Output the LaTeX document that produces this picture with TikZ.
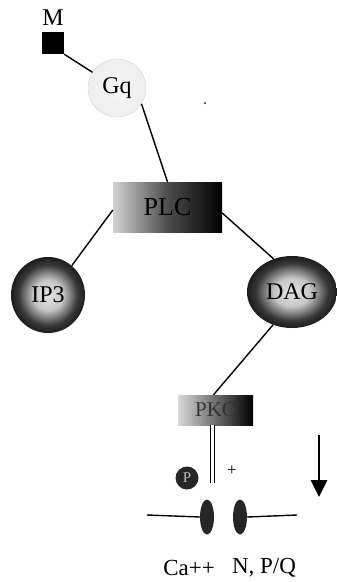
\documentclass[tikz,border=0pt]{standalone}
\usepackage{fontspec}
\setmainfont{Liberation Serif}
\usetikzlibrary{shapes.geometric,arrows.meta}
\pgfdeclareradialshading{ballshade}{\pgfpoint{0bp}{0bp}}{color(0bp)=(gray!20); color(10bp)=(gray!45); color(20bp)=(black!78); color(30bp)=(black); color(50bp)=(black)}
\pgfdeclareradialshading{gqshade}{\pgfpoint{0bp}{0bp}}{color(0bp)=(gray!8); color(30bp)=(gray!14); color(42bp)=(gray!28); color(50bp)=(gray!45)}
\tikzset{
  lbl/.style={font=\fontsize{23}{25}\selectfont, inner sep=0pt},
  conn/.style={line width=1.4pt, black},
  ball/.style={ellipse, shading=ballshade, inner sep=0pt, font=\fontsize{24}{26}\selectfont},
  grad/.style={rectangle, left color=gray!35, right color=black, middle color=black!70, inner sep=0pt}
}
\begin{document}
\begin{tikzpicture}[x=1pt,y=-1pt]
\useasboundingbox (0,0) rectangle (337,582);
% M
\node[lbl, font=\fontsize{24}{26}\selectfont] (Mlab) at (53,18) {M};
\node[rectangle, fill=black, minimum width=22pt, minimum height=22pt, inner sep=0pt] (M) at (53,43) {};
% Gq
\node[circle, shading=gqshade, draw=gray!35, minimum size=58pt, inner sep=0pt, font=\fontsize{24}{26}\selectfont] (Gq) at (117,88) {Gq};
\node[circle, fill=black, inner sep=0pt, minimum size=2pt] (dot) at (205,103) {};
% PLC
\node[grad, minimum width=109pt, minimum height=50pt, font=\fontsize{26}{28}\selectfont] (PLC) at (167.5,207) {PLC};
% IP3 and DAG
\node[ball, minimum width=74pt, minimum height=76pt] (IP3) at (48,295) {IP3};
\node[ball, minimum width=90pt, minimum height=72pt] (DAG) at (292,292) {DAG};
% PKC
\node[grad, left color=gray!30, minimum width=75pt, minimum height=30pt, font=\fontsize{21}{23}\selectfont, text=black!80] (PKC) at (215.5,410) {\raisebox{-4pt}{PKC}};
% connectors
\draw[conn] (M.south east) -- (Gq);
\draw[conn] (Gq.-33) -- (PLC.north);
\draw[conn] ([yshift=-3pt]PLC.west) -- (IP3.51);
\draw[conn] ([yshift=-6pt]PLC.east) -- (DAG.119);
\draw[conn] (DAG.-120) -- ([xshift=-2pt]PKC.north);
% double line to channel
\coordinate (chantop) at (212.5,425);
\coordinate (chanbot) at (212.5,483);
\draw[line width=1.3pt, double=white, double distance=3pt] (chantop) -- (chanbot);
% P and +
\node[circle, fill=black!85, minimum size=23pt, inner sep=0pt, text=gray!55, font=\fontsize{15}{15}\selectfont] (P) at (187,478) {P};
\node[lbl, font=\fontsize{17}{17}\selectfont] (plus) at (232,471) {+};
% membrane and channel
\node[ellipse, fill=black!85, minimum width=14pt, minimum height=35pt, inner sep=0pt] (chL) at (207,517) {};
\node[ellipse, fill=black!85, minimum width=14pt, minimum height=35pt, inner sep=0pt] (chR) at (240,517) {};
\coordinate (memL) at (147,515);
\coordinate (memR) at (297,515);
\draw[conn] (memL) -- (chL.west);
\draw[conn] (chR.east) -- (memR);
% arrow
\coordinate (arrT) at (319,435);
\coordinate (arrB) at (319,497);
\draw[line width=2.8pt, -{Triangle[width=16pt,length=17pt]}] (arrT) -- (arrB);
% labels
\node[lbl] (ca) at (189,568) {Ca++};
\node[lbl] (np) at (264,568) {N, P/Q};
\end{tikzpicture}
\end{document}
